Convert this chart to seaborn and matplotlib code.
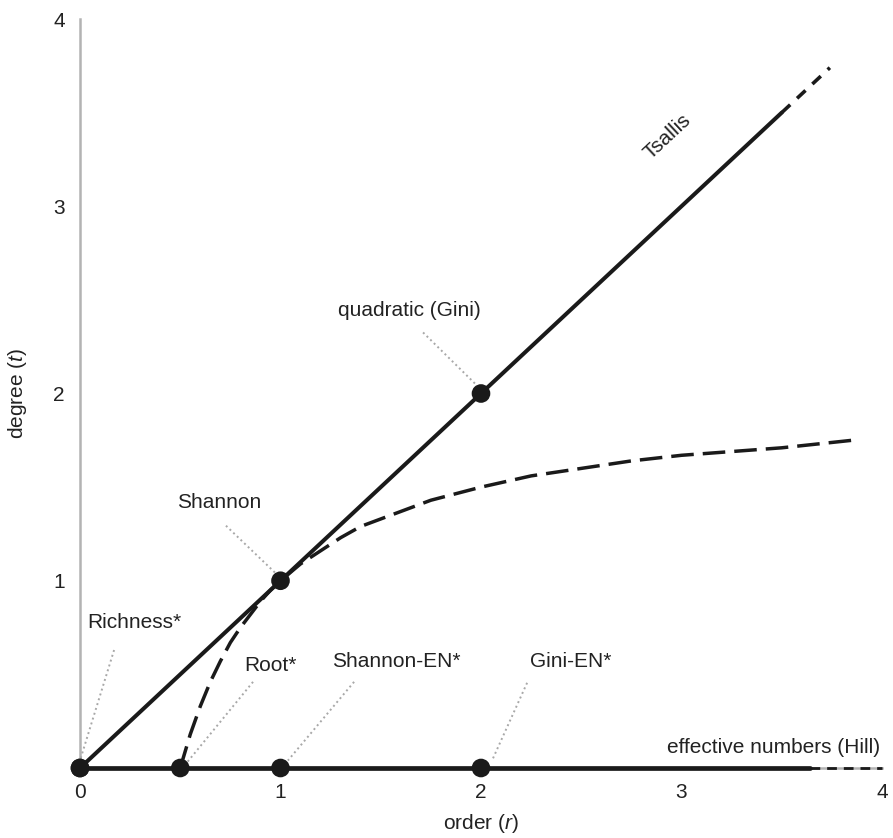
import matplotlib
matplotlib.use("Agg")
import matplotlib.pyplot as plt
import seaborn as sns
import pandas as pd

# ---- data ----
tsallis_r = [0.0, 1.0, 2.0, 3.5]
tsallis_t = [0.0, 1.0, 2.0, 3.5]
tsallis_ext_r = [3.5, 3.74]
tsallis_ext_t = [3.5, 3.74]

hill_r = [0.0, 3.64]
hill_t = [0.0, 0.0]
hill_ext_r = [3.64, 4.0]
hill_ext_t = [0.0, 0.0]

curve_r = [0.5, 0.55, 0.6, 0.65, 0.7, 0.75, 0.8, 0.85, 0.9, 0.95, 1.0, 1.1, 1.2, 1.3,
           1.4, 1.5, 1.75, 2.0, 2.25, 2.5, 2.75, 3.0, 3.25, 3.5, 3.85]
curve_t = [0.0, 0.18, 0.33, 0.46, 0.57, 0.67, 0.75, 0.82, 0.89, 0.95, 1.0, 1.09, 1.16, 1.23,
           1.29, 1.33, 1.43, 1.5, 1.56, 1.6, 1.64, 1.67, 1.69, 1.71, 1.75]

point_r = [0.0, 1.0, 2.0, 0.0, 0.5, 1.0, 2.0]
point_t = [0.0, 1.0, 2.0, 0.0, 0.0, 0.0, 0.0]

label_names = ["Richness*", "Root*", "Shannon-EN*", "Gini-EN*", "Shannon", "quadratic (Gini)"]
label_text_xy = [(0.035, 0.775), (0.818, 0.545), (1.257, 0.567), (2.244, 0.567), (0.693, 1.417), (1.641, 2.444)]
label_ha = ["left", "left", "left", "left", "center", "center"]
leader_from = [(0.17, 0.63), (0.863, 0.46), (1.367, 0.46), (2.23, 0.455), (0.728, 1.294), (1.711, 2.326)]
leader_to = [(0.0, 0.04), (0.534, 0.03), (1.037, 0.04), (2.055, 0.04), (0.973, 1.043), (1.99, 2.032)]

x_ticks = [0, 1, 2, 3, 4]
y_ticks = [1, 2, 3, 4]

# ---- style ----
sns.set_style("white")
plt.rcParams["font.family"] = ["Liberation Sans", "DejaVu Sans"]
plt.rcParams["mathtext.fontset"] = "custom"
plt.rcParams["mathtext.rm"] = "Liberation Sans"
plt.rcParams["mathtext.it"] = "Liberation Sans:italic"

TXT = "#222222"
GRAY = "#b3b3b3"
FS = 15

fig = plt.figure(figsize=(8.93, 8.38), dpi=100)
ax = fig.add_axes([80 / 893, (838 - 768) / 838, (882 - 80) / 893, (768 - 19) / 838])

# leader lines (dotted gray)
for (x0, y0), (x1, y1) in zip(leader_from, leader_to):
    sns.lineplot(x=[x0, x1], y=[y0, y1], ax=ax, color="#a8a8a8", lw=1.4,
                 linestyle=(0, (1, 1.6)), sort=False, estimator=None)

# Tsallis line
sns.lineplot(x=tsallis_r, y=tsallis_t, ax=ax, color="#1a1a1a", lw=2.9,
             estimator=None, sort=False)
sns.lineplot(x=tsallis_ext_r, y=tsallis_ext_t, ax=ax, color="#1a1a1a", lw=2.6,
             linestyle=(0, (3.2, 2.6)), estimator=None, sort=False)

# Hill (effective numbers) line
sns.lineplot(x=hill_r, y=hill_t, ax=ax, color="#1a1a1a", lw=3.4,
             estimator=None, sort=False)
sns.lineplot(x=hill_ext_r, y=hill_ext_t, ax=ax, color="#1a1a1a", lw=2.0,
             linestyle=(0, (3.5, 2.5)), estimator=None, sort=False)

# dashed curve
sns.lineplot(x=curve_r, y=curve_t, ax=ax, color="#1a1a1a", lw=2.5,
             linestyle=(0, (6.5, 2.6)), estimator=None, sort=False)

for ln in ax.lines:
    ln.set_clip_on(False)
    ln.set_zorder(3)

# points
sns.scatterplot(x=point_r, y=point_t, ax=ax, color="#1a1a1a", s=180,
                edgecolor="none", zorder=5, clip_on=False)

# labels
for name, (x, y), ha in zip(label_names, label_text_xy, label_ha):
    ax.text(x, y, name, ha=ha, va="center", fontsize=FS, color=TXT)

ax.text(2.93, 3.37, "Tsallis", ha="center", va="center", fontsize=FS,
        color=TXT, rotation=43, rotation_mode="anchor")
ax.text(3.99, 0.107, "effective numbers (Hill)", ha="right", va="center",
        fontsize=FS, color=TXT)

# axes
ax.set_xlim(0, 4)
ax.set_ylim(0, 4)
ax.set_xticks(x_ticks)
ax.set_xticklabels([str(v) for v in x_ticks])
ax.set_yticks(y_ticks)
ax.set_yticklabels([str(v) for v in y_ticks])
for side in ["top", "right"]:
    ax.spines[side].set_visible(False)
for side in ["left", "bottom"]:
    ax.spines[side].set_color(GRAY)
    ax.spines[side].set_linewidth(1.8)
ax.tick_params(axis="both", direction="out", length=4, width=1.2, color=GRAY,
               labelsize=FS, labelcolor=TXT, pad=7)
ax.set_xlabel("order ($\\it{r}$)", fontsize=FS, color=TXT, labelpad=7)
ax.set_ylabel("degree ($\\it{t}$)", fontsize=FS, color=TXT, labelpad=17)
ax.grid(False)

fig.savefig("out.png", dpi=100)
